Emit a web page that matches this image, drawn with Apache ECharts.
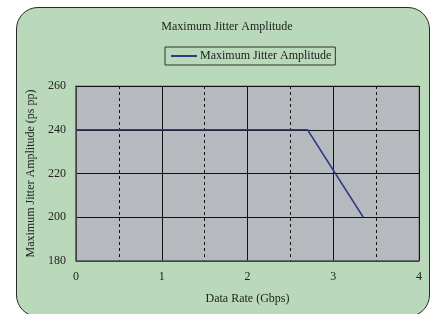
<!DOCTYPE html>
<html lang="en">
<head>
    <meta charset="UTF-8">
    <title>Maximum Jitter Amplitude</title>
    <style>
        body { margin: 0; background: #ffffff; }
        #frame {
            position: absolute;
            left: 16px; top: 7px;
            width: 412px; height: 308px;
            border: 1.5px solid #2a2a2a;
            border-radius: 22px;
            background: #b9d9ba;
        }
        #box {
            position: absolute;
            left: 0; top: 0;
            width: 436px; height: 314px;
        }
    </style>
    <script src="https://cdn.jsdelivr.net/npm/echarts@6/dist/echarts.min.js"></script>
</head>
<body>
    <div id="frame"></div>
    <div id="box"></div>
    <script>
        // data rate (Gbps) vs max jitter amplitude (ps pp)
        const rateGbps = [0, 2.7, 3.35]
        const jitterPs = [240, 240, 200]
        const seriesName = 'Maximum Jitter Amplitude'

        const points = rateGbps.map((x, i) => [x, jitterPs[i]])
        const serif = 'Liberation Serif'

        const myChart = echarts.init(document.querySelector('#box'))

        const option = {
            animation: false,
            title: {
                text: 'Maximum Jitter Amplitude',
                left: 222,
                textAlign: 'center',
                top: 16,
                textStyle: { fontFamily: serif, fontSize: 12, fontWeight: 'normal', color: '#222' }
            },
            legend: {
                left: 165,
                top: 47,
                borderColor: '#333',
                borderWidth: 1,
                padding: [3, 4, 3, 6],
                itemWidth: 26,
                itemHeight: 2,
                itemGap: 4,
                textStyle: { fontFamily: serif, fontSize: 12, color: '#222', padding: [0, 0, 0, -2] },
                data: [{ name: seriesName, icon: 'rect' }]
            },
            grid: {
                left: 76, right: 17, top: 86, bottom: 53,
                show: true,
                backgroundColor: '#b6babf',
                borderColor: '#777',
                borderWidth: 1
            },
            xAxis: {
                type: 'value',
                min: 0, max: 4, interval: 1,
                name: 'Data Rate (Gbps)',
                nameLocation: 'middle',
                nameGap: 32,
                nameTextStyle: { fontFamily: serif, fontSize: 12, color: '#222' },
                axisLine: { lineStyle: { color: '#555', width: 1.5 } },
                axisTick: { show: false },
                axisLabel: { fontFamily: serif, fontSize: 12, color: '#222', margin: 10 },
                splitLine: { lineStyle: { color: '#111', width: 1 } },
                minorTick: { show: false, splitNumber: 2 },
                minorSplitLine: { show: true, lineStyle: { color: '#111', width: 1, type: [3, 3] } }
            },
            yAxis: {
                type: 'value',
                min: 180, max: 260, interval: 20,
                name: 'Maximum Jitter Amplitude (ps pp)',
                nameLocation: 'middle',
                nameGap: 34,
                nameTextStyle: { fontFamily: serif, fontSize: 12, color: '#222' },
                axisLine: { show: true, lineStyle: { color: '#555', width: 1.5 } },
                axisTick: { show: false },
                axisLabel: { fontFamily: serif, fontSize: 12, color: '#222', margin: 10 },
                splitLine: { lineStyle: { color: '#111', width: 1 } }
            },
            series: [{
                name: seriesName,
                type: 'line',
                data: points,
                symbol: 'none',
                lineStyle: { color: '#2e3a8c', width: 1.5 },
                itemStyle: { color: '#2e3a8c' }
            }]
        }

        myChart.setOption(option)
    </script>
</body>
</html>
